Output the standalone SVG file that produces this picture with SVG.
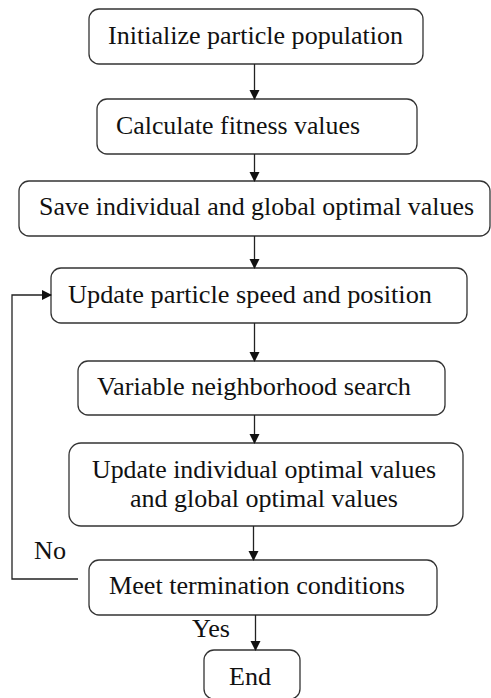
<svg xmlns="http://www.w3.org/2000/svg" width="491" height="698" viewBox="0 0 491 698">
<style>
.box{fill:#fff;stroke:#333;stroke-width:1.3}
.t{font-family:"Liberation Serif","Times New Roman",serif;font-size:24.5px;fill:#111}
.c{fill:none;stroke:#222;stroke-width:1.3}
</style>
<defs>
<marker id="ah" markerWidth="10" markerHeight="12" refX="9" refY="5" orient="auto" markerUnits="userSpaceOnUse" viewBox="0 0 10 10">
<path d="M0,0 L10,5 L0,10 Z" fill="#111"/>
</marker>
</defs>
<rect width="491" height="698" fill="#fff"/>
<g id="n1"><rect class="box" x="89" y="9" width="334" height="55" rx="10"/><text class="t" x="108" y="44" textLength="295" lengthAdjust="spacingAndGlyphs">Initialize particle population</text></g>
<g id="n2"><rect class="box" x="97" y="99" width="320" height="55" rx="10"/><text class="t" x="116" y="134" textLength="244" lengthAdjust="spacingAndGlyphs">Calculate fitness values</text></g>
<g id="n3"><rect class="box" x="19" y="181" width="471" height="55" rx="10"/><text class="t" x="39" y="215" textLength="435" lengthAdjust="spacingAndGlyphs">Save individual and global optimal values</text></g>
<g id="n4"><rect class="box" x="51" y="268" width="416" height="55" rx="10"/><text class="t" x="68" y="303" textLength="364" lengthAdjust="spacingAndGlyphs">Update particle speed and position</text></g>
<g id="n5"><rect class="box" x="78" y="361" width="367" height="54" rx="10"/><text class="t" x="97" y="395" textLength="314" lengthAdjust="spacingAndGlyphs">Variable neighborhood search</text></g>
<g id="n6"><rect class="box" x="69" y="443" width="394" height="83" rx="12"/><text class="t" x="92" y="478" textLength="344" lengthAdjust="spacingAndGlyphs">Update individual optimal values</text><text class="t" x="130" y="507" textLength="268" lengthAdjust="spacingAndGlyphs">and global optimal values</text></g>
<g id="n7"><rect class="box" x="89" y="560" width="348" height="55" rx="10"/><text class="t" x="109" y="594" textLength="296" lengthAdjust="spacingAndGlyphs">Meet termination conditions</text></g>
<g id="n8"><rect class="box" x="204" y="650" width="96" height="49" rx="10"/><text class="t" x="229" y="685" textLength="42" lengthAdjust="spacingAndGlyphs">End</text></g>
<g id="connectors">
<line class="c" x1="254.5" y1="64" x2="254.5" y2="99" marker-end="url(#ah)"/>
<line class="c" x1="254.5" y1="154" x2="254.5" y2="181" marker-end="url(#ah)"/>
<line class="c" x1="254.5" y1="236" x2="254.5" y2="268" marker-end="url(#ah)"/>
<line class="c" x1="254.5" y1="323" x2="254.5" y2="361" marker-end="url(#ah)"/>
<line class="c" x1="254.5" y1="415" x2="254.5" y2="443" marker-end="url(#ah)"/>
<line class="c" x1="253.5" y1="526" x2="253.5" y2="560" marker-end="url(#ah)"/>
<line class="c" x1="255.5" y1="615" x2="255.5" y2="650" marker-end="url(#ah)"/>
<polyline class="c" points="78,579 12,579 12,295 51,295" marker-end="url(#ah)"/>
<text class="t" x="34" y="559" textLength="32" lengthAdjust="spacingAndGlyphs">No</text>
<text class="t" x="192" y="637" textLength="38" lengthAdjust="spacingAndGlyphs">Yes</text>
</g>
</svg>
